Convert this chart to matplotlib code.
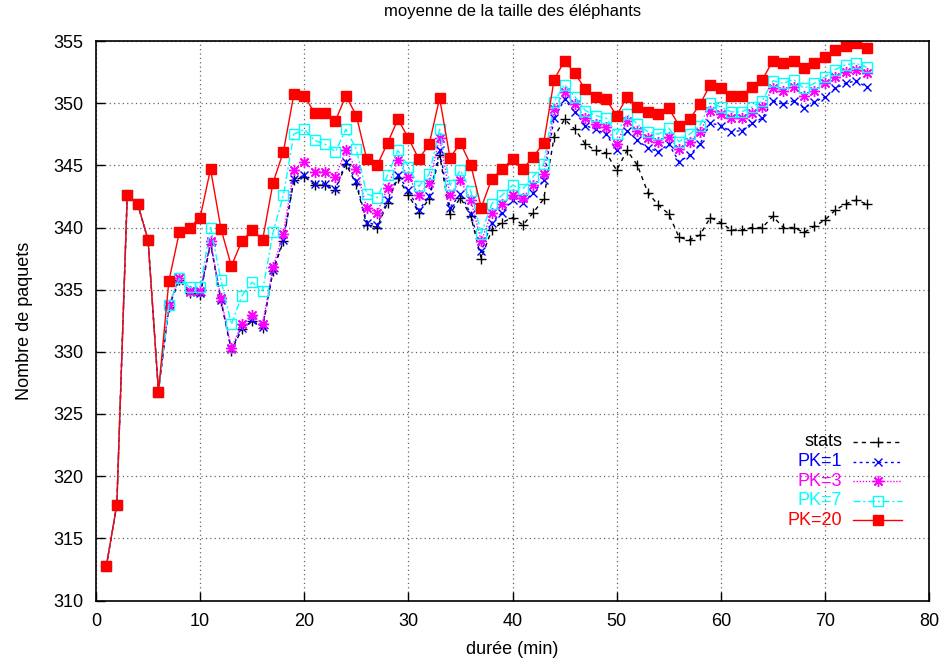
import numpy as np
import matplotlib.pyplot as plt

plt.rcParams['font.family'] = ['Liberation Sans', 'DejaVu Sans']

# durée (min)
duree = np.arange(1, 75)

stats = [312.8, 317.7, 342.6, 341.9, 339.0, 326.8, 333.6, 335.8, 334.7, 334.6,
         338.7, 334.1, 330.1, 331.8, 332.5, 331.9, 336.5, 338.9, 343.8, 344.1,
         343.4, 343.4, 343.0, 345.1, 343.5, 340.2, 340.0, 342.0, 344.0, 342.6,
         341.2, 342.3, 345.8, 341.1, 342.4, 340.9, 337.5, 339.8, 340.4, 340.8,
         340.2, 341.2, 342.3, 347.3, 348.7, 347.9, 346.7, 346.2, 346.0, 344.6,
         346.2, 345.0, 342.8, 341.8, 341.1, 339.2, 339.0, 339.4, 340.8, 340.4,
         339.8, 339.8, 340.0, 340.0, 340.9, 340.0, 340.0, 339.6, 340.1, 340.6,
         341.4, 341.9, 342.2, 341.9]

pk1 = [312.8, 317.7, 342.6, 341.9, 339.0, 326.8, 333.7, 335.9, 334.8, 334.7,
       338.8, 334.2, 330.2, 331.9, 332.6, 332.0, 336.6, 339.0, 343.9, 344.2,
       343.5, 343.5, 343.1, 345.3, 343.7, 340.4, 340.2, 342.2, 344.2, 343.0,
       341.4, 342.5, 346.2, 341.6, 342.7, 341.1, 338.1, 340.4, 341.2, 342.2,
       342.0, 342.8, 343.8, 348.8, 350.3, 349.3, 348.2, 347.9, 347.5, 346.2,
       347.8, 347.0, 346.4, 346.1, 346.7, 345.3, 345.8, 346.7, 348.4, 348.2,
       347.7, 347.8, 348.4, 348.8, 350.2, 349.9, 350.2, 349.6, 350.1, 350.5,
       351.2, 351.6, 351.8, 351.3]

pk3 = [312.8, 317.7, 342.6, 341.9, 339.0, 326.8, 333.8, 335.9, 334.9, 334.9,
       338.9, 334.3, 330.3, 332.2, 333.0, 332.2, 336.8, 339.5, 344.6, 345.3,
       344.5, 344.5, 344.1, 346.2, 344.7, 341.6, 341.2, 343.2, 345.4, 344.1,
       342.6, 343.6, 347.2, 342.6, 343.8, 342.2, 338.9, 341.2, 341.9, 342.6,
       342.4, 343.4, 344.3, 349.5, 350.9, 349.9, 348.8, 348.3, 348.1, 346.7,
       348.6, 347.8, 347.2, 346.9, 347.3, 346.3, 346.9, 347.7, 349.4, 349.1,
       348.8, 348.8, 349.2, 349.7, 351.2, 351.0, 351.3, 350.6, 351.0, 351.6,
       352.1, 352.5, 352.7, 352.4]

pk7 = [312.8, 317.7, 342.6, 341.9, 339.0, 326.8, 333.8, 335.9, 335.2, 335.2,
       340.0, 335.8, 332.2, 334.5, 335.6, 334.9, 339.6, 342.6, 347.5, 347.9,
       347.0, 346.7, 346.1, 347.9, 346.3, 342.7, 342.4, 344.2, 346.2, 344.9,
       343.3, 344.3, 347.9, 343.4, 344.6, 342.9, 339.5, 341.9, 342.6, 343.4,
       343.1, 344.1, 345.1, 350.1, 351.5, 350.5, 349.4, 349.0, 348.8, 347.5,
       349.1, 348.3, 347.7, 347.5, 348.0, 346.9, 347.5, 348.2, 350.0, 349.7,
       349.3, 349.3, 349.7, 350.2, 351.8, 351.6, 351.9, 351.2, 351.6, 352.1,
       352.7, 353.1, 353.2, 352.9]

pk20 = [312.8, 317.7, 342.6, 341.9, 339.0, 326.8, 335.7, 339.6, 340.0, 340.8,
        344.7, 339.9, 336.9, 338.9, 339.8, 339.0, 343.6, 346.1, 350.7, 350.6,
        349.2, 349.2, 348.6, 350.6, 349.0, 345.5, 345.0, 346.8, 348.7, 347.2,
        345.5, 346.7, 350.4, 345.6, 346.8, 345.0, 341.6, 343.9, 344.7, 345.5,
        344.7, 345.7, 346.8, 351.9, 353.4, 352.4, 351.1, 350.5, 350.3, 349.0,
        350.5, 349.7, 349.3, 349.1, 349.6, 348.2, 348.7, 349.9, 351.5, 351.2,
        350.6, 350.6, 351.3, 351.9, 353.4, 353.2, 353.4, 352.8, 353.2, 353.7,
        354.3, 354.6, 354.8, 354.4]

labels = ['stats', 'PK=1', 'PK=3', 'PK=7', 'PK=20']

# gnuplot-like styles: colour, dash pattern, marker, marker size, filled
styles = [
    dict(color='black', dashes=(3, 3), marker='+', ms=7, mfc='none'),
    dict(color='#0000ff', dashes=(2, 2.5), marker='x', ms=6, mfc='none'),
    dict(color='#ff00ff', dashes=(1, 1.2), marker=(8, 2, 0), ms=8, mfc='none'),
    dict(color='#00ffff', dashes=(5, 2, 1.5, 2), marker='s', ms=6.5, mfc='none'),
    dict(color='#ff0000', dashes=(None, None), marker='s', ms=6.5, mfc='#ff0000'),
]

fig = plt.figure(figsize=(9.46, 6.61), dpi=100)
ax = fig.add_axes([96 / 946, 1 - 600.5 / 661, 833 / 946, 559.5 / 661])

lines = []
for ys, st in zip([stats, pk1, pk3, pk7, pk20], styles):
    kw = dict(color=st['color'], marker=st['marker'], ms=st['ms'],
              mfc=st['mfc'], mec=st['color'], mew=1.0, lw=1.0)
    if st['dashes'][0] is None:
        ln, = ax.plot(duree, ys, ls='-', **kw)
    else:
        ln, = ax.plot(duree, ys, dashes=st['dashes'], **kw)
    lines.append(ln)

ax.set_xlim(0, 80)
ax.set_ylim(310, 355)
ax.set_xticks(np.arange(0, 81, 10))
ax.set_yticks(np.arange(310, 356, 5))
ax.tick_params(direction='in', length=6.5, width=1, labelsize=13, pad=9)
ax.grid(True, color='#666666', ls=(0, (1, 2.5)), lw=0.9)
ax.set_axisbelow(True)
for sp in ax.spines.values():
    sp.set_linewidth(1.2)

ax.set_title('moyenne de la taille des éléphants', fontsize=12, pad=18)
ax.set_xlabel('durée (min)', fontsize=13, labelpad=8)
ax.set_ylabel('Nombre de paquets', fontsize=13, labelpad=15)

# key in the lower right, text right-aligned before each sample
x_txt, x0, x1 = 0.8956, 0.9088, 0.9676
y_top, step = 0.2833, 0.0349
for i, (ln, lab) in enumerate(zip(lines, labels)):
    yk = y_top - i * step
    ax.text(x_txt, yk, lab, transform=ax.transAxes, ha='right', va='center',
            fontsize=13, color=ln.get_color())
    seg, = ax.plot([x0, x1], [yk, yk], transform=ax.transAxes, lw=1.0,
                   color=ln.get_color(), clip_on=False)
    seg.set_linestyle(ln.get_linestyle())
    if styles[i]['dashes'][0] is not None:
        seg.set_dashes(styles[i]['dashes'])
    ax.plot([(x0 + x1) / 2], [yk], transform=ax.transAxes, ls='none',
            marker=ln.get_marker(), ms=ln.get_markersize(),
            mfc=ln.get_markerfacecolor(), mec=ln.get_color(), mew=1.0,
            clip_on=False)

fig.savefig('out.png', dpi=100)
